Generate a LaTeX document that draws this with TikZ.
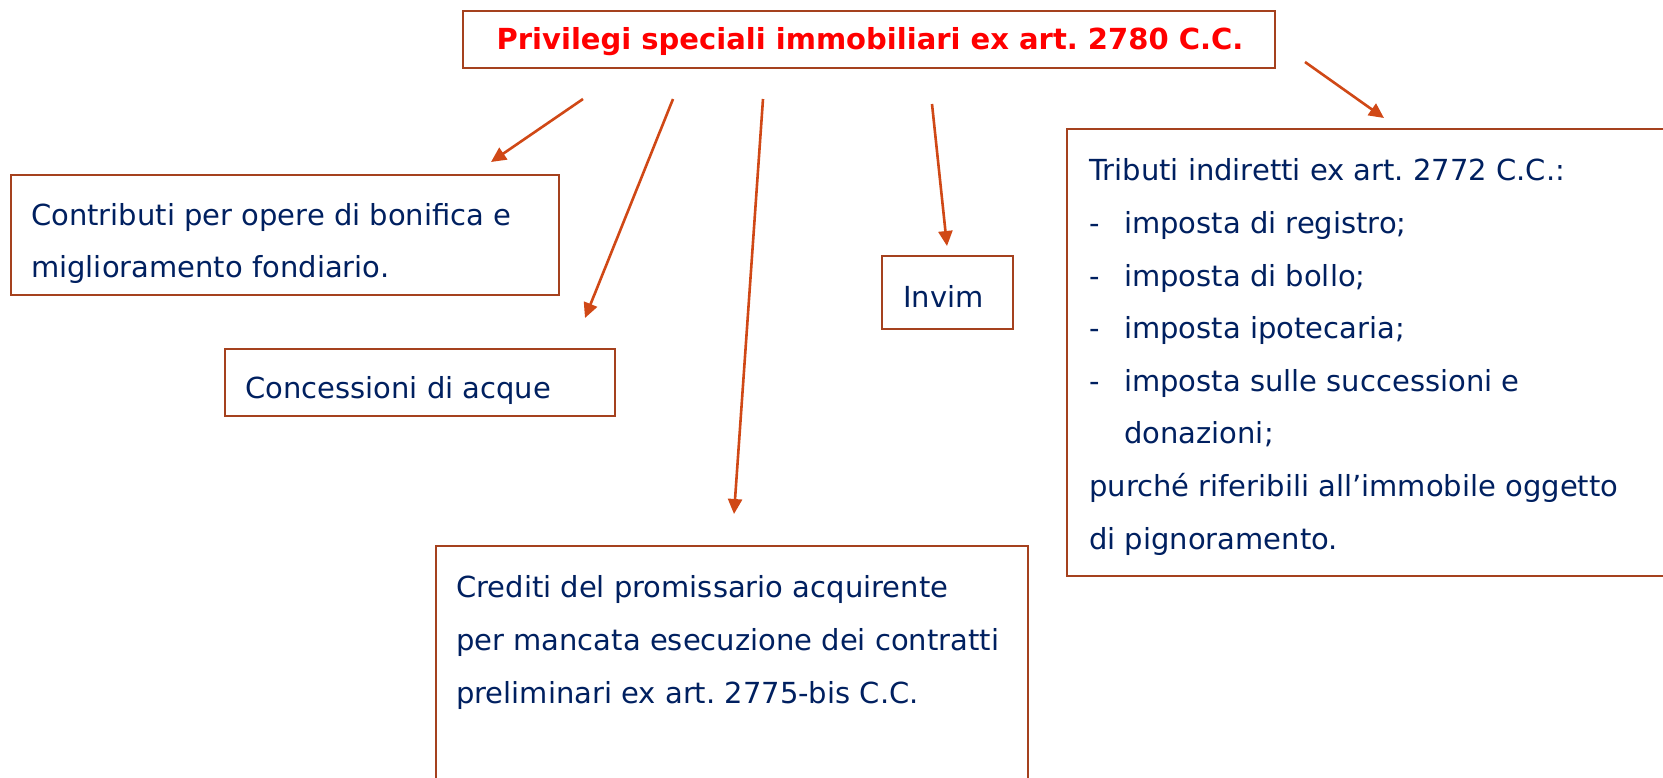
\documentclass[tikz,border=0pt]{standalone}
\usepackage{fontspec}
\setmainfont{DejaVu Sans}
\usetikzlibrary{arrows.meta}
\definecolor{boxc}{RGB}{165,65,30}
\definecolor{arrc}{RGB}{208,72,22}
\definecolor{txtc}{RGB}{0,32,96}
\definecolor{ttl}{RGB}{255,0,0}
\begin{document}
\frenchspacing
\begin{tikzpicture}[x=1pt,y=-1pt,
  frame/.style={draw=boxc, line width=2.2pt, fill=white, rectangle, inner sep=0pt},
  lbl/.style={text=txtc, anchor=base west, align=left, inner sep=0pt},
  arr/.style={draw=arrc, line width=2.6pt, -{Triangle[length=15pt,width=14pt]}}]
\useasboundingbox (0,0) rectangle (1663,777);
\clip (0,0) rectangle (1663,777);
\fill[white] (0,0) rectangle (1663,777);
% boxes
\node[frame, minimum width=812pt, minimum height=57pt] (title) at (869,39.5) {};
\node[frame, minimum width=548pt, minimum height=120pt] (contr) at (285,235) {};
\node[frame, minimum width=390pt, minimum height=67pt] (conc) at (420,382.5) {};
\node[frame, minimum width=131pt, minimum height=73pt] (invim) at (947.5,292.5) {};
\node[frame, minimum width=623pt, minimum height=447pt] (trib) at (1378.5,352.5) {};
\node[frame, minimum width=592pt, minimum height=254pt] (cred) at (732,673) {};
% texts
\node[text=ttl, font=\bfseries\fontsize{29}{30}\selectfont, inner sep=0pt, anchor=base] (titletxt) at (870,49.5) {Privilegi speciali immobiliari ex art. 2780 C.C.};
\node[lbl, font=\fontsize{29}{52}\selectfont] (contrtxt) at (31,277) {Contributi per opere di bonifica e\\miglioramento fondiario.};
\node[lbl, font=\fontsize{29}{52}\selectfont] (conctxt) at (245,398) {Concessioni di acque};
\node[lbl, font=\fontsize{29}{52}\selectfont] (invimtxt) at (903,307) {Invim};
\node[lbl, font=\fontsize{29}{52.6}\selectfont] (tribtxt) at (1089,549) {Tributi indiretti ex art. 2772 C.C.:\\
\makebox[35pt][l]{-}imposta di registro;\\
\makebox[35pt][l]{-}imposta di bollo;\\
\makebox[35pt][l]{-}imposta ipotecaria;\\
\makebox[35pt][l]{-}imposta sulle successioni e\\
\hspace*{35pt}donazioni;\\
purché riferibili all’immobile oggetto\\
di pignoramento.};
\node[lbl, font=\fontsize{29}{53}\selectfont] (credtxt) at (456,703) {Crediti del promissario acquirente\\per mancata esecuzione dei contratti\\preliminari ex art. 2775-bis C.C.};
% connectors
\coordinate (s1) at (583,99);  \coordinate (e1) at (491,162);
\coordinate (s2) at (673,99);  \coordinate (e2) at (585,318);
\coordinate (s3) at (763,99);  \coordinate (e3) at (734,514);
\coordinate (s4) at (932,104); \coordinate (e4) at (947,246);
\coordinate (s5) at (1305,62); \coordinate (e5) at (1384,118);
\draw[arr] (s1) -- (e1);
\draw[arr] (s2) -- (e2);
\draw[arr] (s3) -- (e3);
\draw[arr] (s4) -- (e4);
\draw[arr] (s5) -- (e5);
\end{tikzpicture}
\end{document}
